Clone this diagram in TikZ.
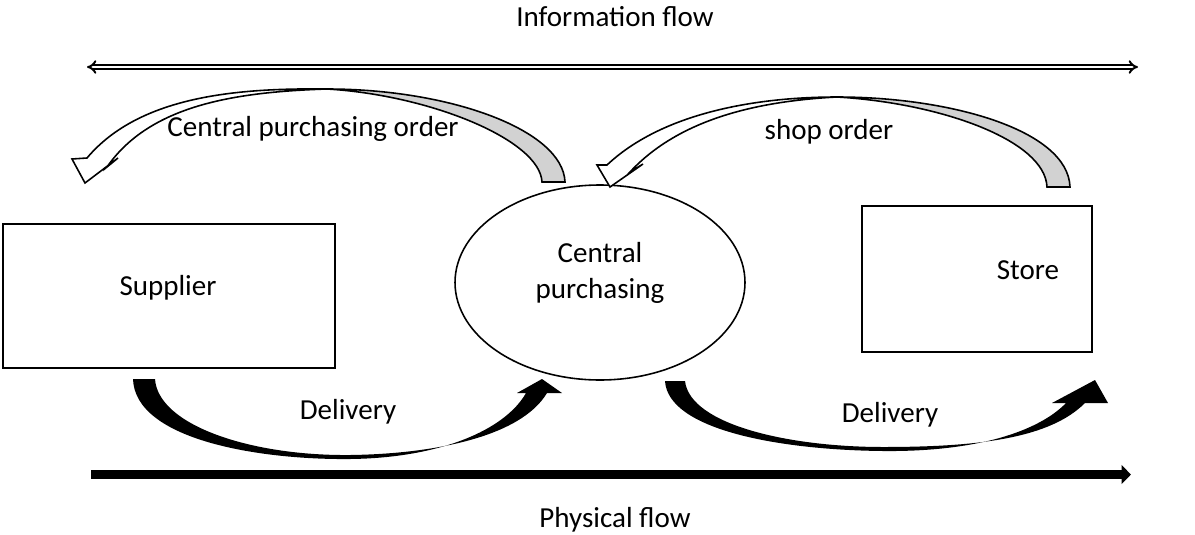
\documentclass[tikz,border=0pt]{standalone}
\usepackage{fontspec}
\setmainfont{Carlito}
\usetikzlibrary{arrows.meta,shapes.geometric}
\begin{document}
\begin{tikzpicture}
  [x=0.379pt,y=-0.379pt,
   every node/.style={font=\fontsize{11pt}{13.6pt}\selectfont,inner sep=0pt,outer sep=0pt},
   box/.style={draw,line width=0.75pt,rectangle},
   ribbon/.style={draw,line width=0.6pt,line join=miter},
   flow/.style={line width=3.4pt,-{Triangle[length=3.6pt,width=7pt]}}]
  \useasboundingbox (0,0) rectangle (1195,534);

  \node[box,minimum width=125.8pt,minimum height=54.6pt] (supplier) at (169,296) {};
  \node[box,minimum width=87.2pt,minimum height=55.3pt] (store) at (977,279) {};
  \node[draw,ellipse,line width=0.6pt,minimum width=109.9pt,minimum height=73.9pt] (cp) at (600,282.5) {};

  \node[anchor=base] (suppliertext) at (168,295) {Supplier};
  \node[anchor=base] (storetext) at (1028,279) {Store};
  \node[anchor=base] (cptext1) at (600,262) {Central};
  \node[anchor=base] (cptext2) at (600,298) {purchasing};

  \node[anchor=base] (info) at (615,26) {Information flow};
  \node[anchor=base] (phys) at (615,527) {Physical flow};
  \node[anchor=base] (cporder) at (313,136) {Central purchasing order};
  \node[anchor=base] (shoporder) at (829,139) {shop order};
  \node[anchor=base] (deliv1) at (348,419) {Delivery};
  \node[anchor=base] (deliv2) at (890,422) {Delivery};

  \coordinate (infoL) at (87,67);
  \coordinate (infoR) at (1138,67);
  \coordinate (physL) at (91,474.5);
  \coordinate (physR) at (1131,474.5);
  \draw[double,line width=0.75pt,double distance=0.9pt,{Implies}-{Implies}] (infoL) -- (infoR);
  \draw[flow] (physL) -- (physR);

  % order arrows
  \draw[ribbon,fill=white] (107,167) -- (118,158) -- (85,183) -- (72,159) -- (87,158)
    .. controls (140,95) and (240,88) .. (327,89)
    .. controls (235,92) and (150,105) .. (107,167) -- cycle;
  \draw[ribbon,fill=gray!35] (327,89) .. controls (450,89) and (563,130) .. (565,182)
    -- (542,182) .. controls (540,140) and (430,95) .. (327,89) -- cycle;
  \draw[ribbon,fill=white] (630,172) -- (643,164) -- (610,187) -- (597,165) -- (607,165)
    .. controls (660,115) and (750,97) .. (837,97)
    .. controls (760,101) and (680,118) .. (630,172) -- cycle;
  \draw[ribbon,fill=gray!35] (837,97) .. controls (950,97) and (1068,130) .. (1070,187)
    -- (1047,187) .. controls (1045,140) and (940,103) .. (837,97) -- cycle;

  % delivery arrows
  \fill (133,379) .. controls (135,440) and (260,460) .. (350,459)
    .. controls (440,458) and (505,430) .. (526,393) -- (517,393) -- (542,379) -- (562,393) -- (547,393)
    .. controls (520,438) and (430,454) .. (350,455)
    .. controls (250,456) and (158,425) .. (155,379) -- cycle;
  \fill (665,381) .. controls (668,430) and (780,450) .. (883,451)
    .. controls (980,452) and (1040,430) .. (1066,403) -- (1052,403) -- (1095,380) -- (1108,403) -- (1085,403)
    .. controls (1050,438) and (980,447) .. (883,447)
    .. controls (790,447) and (690,425) .. (685,381) -- cycle;
\end{tikzpicture}
\end{document}
